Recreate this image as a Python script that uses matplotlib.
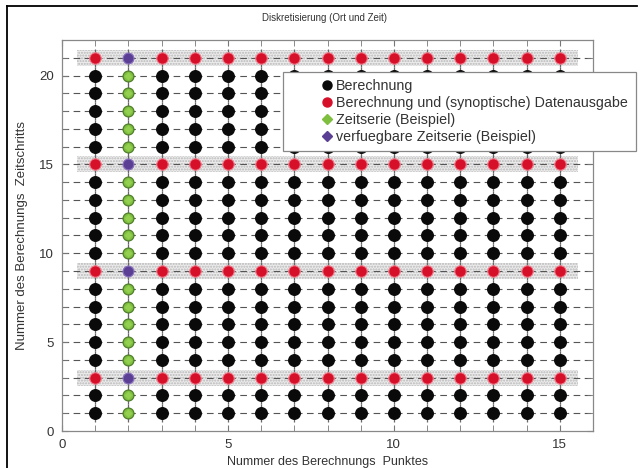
import numpy as np
import matplotlib.pyplot as plt
from matplotlib.lines import Line2D
from matplotlib.patches import Rectangle

plt.rcParams['font.family'] = ['Liberation Sans', 'DejaVu Sans']

# Berechnungsgitter: Punkte (x) und Zeitschritte (y)
punkte = [1, 2, 3, 4, 5, 6, 7, 8, 9, 10, 11, 12, 13, 14, 15]
zeitschritte = [1, 2, 3, 4, 5, 6, 7, 8, 9, 10, 11, 12, 13, 14, 15, 16, 17, 18, 19, 20, 21]
ausgabe_schritte = [3, 9, 15, 21]
zeitserie_punkt = 2

legend_labels = ["Berechnung",
                 "Berechnung und (synoptische) Datenausgabe",
                 "Zeitserie (Beispiel)",
                 "verfuegbare Zeitserie (Beispiel)"]

c_black = "#0a0a0a"
c_red = "#d7102a"
c_green = "#7fbf3f"
c_purple = "#5a3f94"
c_text = "#333333"

W, H = 642, 468
fig = plt.figure(figsize=(W / 100, H / 100), dpi=100)
ax = fig.add_axes([62 / W, 1 - 431 / H, (593 - 62) / W, (431 - 40) / H])

ax.set_xlim(0, 16)
ax.set_ylim(0, 22)

# gestrichelte Linien je Zeitschritt
for t in zeitschritte:
    ax.axhline(t, color="#555555", lw=0.8, dashes=(6, 4), zorder=1)

# grau schraffierte Baender bei Ausgabezeitschritten
for t in ausgabe_schritte:
    ax.fill_between([punkte[0] - 0.55, punkte[-1] + 0.55], t - 0.45, t + 0.45,
                    facecolor="#ececec", edgecolor="#b8b8b8", hatch="......",
                    lw=0, zorder=0)

X, Y = np.meshgrid(punkte, zeitschritte)
X = X.ravel()
Y = Y.ravel()
is_out = np.isin(Y, ausgabe_schritte)
is_ts = X == zeitserie_punkt

# kurze senkrechte Striche durch die Punkte
ax.plot(X, Y, ls="none", marker="|", ms=13, mew=0.9, color="#666666", zorder=2)

ms = 8.3
ax.plot(X[~is_out & ~is_ts], Y[~is_out & ~is_ts], ls="none", marker="o", ms=ms,
        mfc=c_black, mec=c_black, zorder=3)
ax.plot(X[is_out & ~is_ts], Y[is_out & ~is_ts], ls="none", marker="o", ms=ms,
        mfc=c_red, mec="#f08090", mew=0.8, zorder=3)
ax.plot(X[~is_out & is_ts], Y[~is_out & is_ts], ls="none", marker="o", ms=ms - 0.5,
        mfc=c_green, mec="#4f7f2a", mew=0.9, zorder=3)
ax.plot(X[~is_out & is_ts], Y[~is_out & is_ts], ls="none", marker="D", ms=4.5,
        mfc="#94d04f", mec="none", zorder=4)
ax.plot(X[is_out & is_ts], Y[is_out & is_ts], ls="none", marker="o", ms=ms - 0.5,
        mfc=c_purple, mec="#8a6fbf", mew=0.8, zorder=3)

ax.set_xticks([0, 5, 10, 15])
ax.set_yticks([0, 5, 10, 15, 20])
ax.set_xticks(punkte, minor=True)
ax.set_yticks(zeitschritte, minor=True)
ax.tick_params(which="both", direction="in", top=True, right=True,
               color="#777777", labelsize=9.5, labelcolor=c_text)
ax.tick_params(which="major", length=4, pad=6)
ax.tick_params(which="minor", length=4)
for s in ax.spines.values():
    s.set_color("#888888")
    s.set_linewidth(0.9)

ax.set_xlabel("Nummer des Berechnungs  Punktes", fontsize=9, color=c_text, labelpad=3)
ax.set_ylabel("Nummer des Berechnungs  Zeitschritts", fontsize=9.5, color=c_text, labelpad=8)
fig.text(325 / W, 1 - 18 / H, "Diskretisierung (Ort und Zeit)",
         ha="center", va="center", fontsize=7, color=c_text)

# Legendenkasten, ragt rechts ueber die Achse hinaus
fig.add_artist(Rectangle((283 / W, 1 - 151 / H), (636 - 283) / W, (151 - 72) / H,
                         transform=fig.transFigure, facecolor="white",
                         edgecolor="#888888", lw=0.9, zorder=4))

handles = [
    Line2D([], [], ls="none", marker="o", ms=6.5, color=c_black),
    Line2D([], [], ls="none", marker="o", ms=6.5, color=c_red),
    Line2D([], [], ls="none", marker="D", ms=5, color=c_green),
    Line2D([], [], ls="none", marker="D", ms=5, color=c_purple),
]
leg = fig.legend(handles, legend_labels, loc="upper left",
                 bbox_to_anchor=(321 / W, 1 - 79 / H),
                 fontsize=10.3, frameon=False,
                 handlelength=0.8, handletextpad=0.25, borderaxespad=0,
                 labelspacing=0.2, borderpad=0)
leg.set_zorder(5)
for t in leg.get_texts():
    t.set_color(c_text)

# Rahmen links und oben
fig.add_artist(Line2D([7 / W, 7 / W], [0, 1 - 6 / H], color="black", lw=1.3))
fig.add_artist(Line2D([7 / W, 637 / W], [1 - 6 / H, 1 - 6 / H], color="black", lw=1.3))

fig.savefig("out.png", dpi=100)
